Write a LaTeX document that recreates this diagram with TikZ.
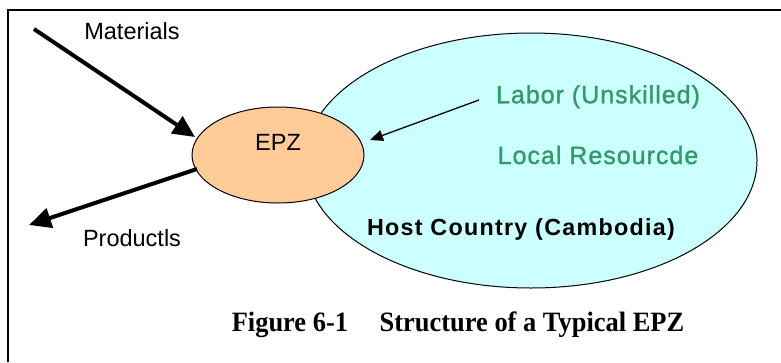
\documentclass[tikz,border=0pt]{standalone}
\usepackage{fontspec}
\setmainfont{Liberation Sans}
\newfontfamily\capfont{Liberation Serif}
\newfontfamily\spacedfont[LetterSpace=4,FakeBold=1.2]{Liberation Sans}
\newfontfamily\hostfont[LetterSpace=5.5]{Liberation Sans Bold}
\usetikzlibrary{arrows.meta}
\definecolor{hostfill}{HTML}{CCFFFF}
\definecolor{epzfill}{HTML}{FFCC99}
\definecolor{greentext}{HTML}{339966}
\begin{document}
\begin{tikzpicture}[x=1pt,y=-1pt,
  lbl/.style={font=\fontsize{23.5}{26}\selectfont, inner sep=0pt, anchor=base},
  glbl/.style={font=\spacedfont\fontsize{25}{27}\selectfont, text=greentext, inner sep=0pt, anchor=base},
  hlbl/.style={font=\hostfont\fontsize{23.3}{26}\selectfont, inner sep=0pt, anchor=base},
  bigarrow/.style={line width=4pt, -{Triangle[length=22pt,width=20pt]}},
  thinarrow/.style={line width=1.3pt, -{Triangle[length=13pt,width=11pt]}}
]
\useasboundingbox (0,0) rectangle (781,362);
\draw[line width=1.5pt] (8,362) -- (8,10) -- (781,10);
\draw[line width=1pt, fill=hostfill] (531,160.5) ellipse [x radius=226, y radius=127.5];
\draw[line width=1pt, fill=epzfill] (278,155) ellipse [x radius=86, y radius=48];
\coordinate (matstart) at (34,29);
\coordinate (mattip) at (195,137);
\coordinate (prodstart) at (197,169);
\coordinate (prodtip) at (29,225);
\coordinate (labstart) at (479,100);
\coordinate (labtip) at (370,140);
\draw[bigarrow] (matstart) -- (mattip);
\draw[bigarrow] (prodstart) -- (prodtip);
\draw[thinarrow] (labstart) -- (labtip);
\node[lbl] (mat) at (132,39) {Materials};
\node[lbl] (epzl) at (278,150) {EPZ};
\node[lbl] (prod) at (132,246.7) {Productls};
\node[glbl] (labor) at (598,103.3) {Labor (Unskilled)};
\node[glbl] (local) at (598,164) {Local Resourcde};
\node[hlbl] (host) at (521,235.7) {Host Country (Cambodia)};
\node[inner sep=0pt, anchor=base, font=\capfont\bfseries\fontsize{28}{30}\selectfont, xscale=0.944] (cap) at (458,331) {Figure 6-1\hspace{1.2em}Structure of a Typical EPZ};
\end{tikzpicture}
\end{document}
